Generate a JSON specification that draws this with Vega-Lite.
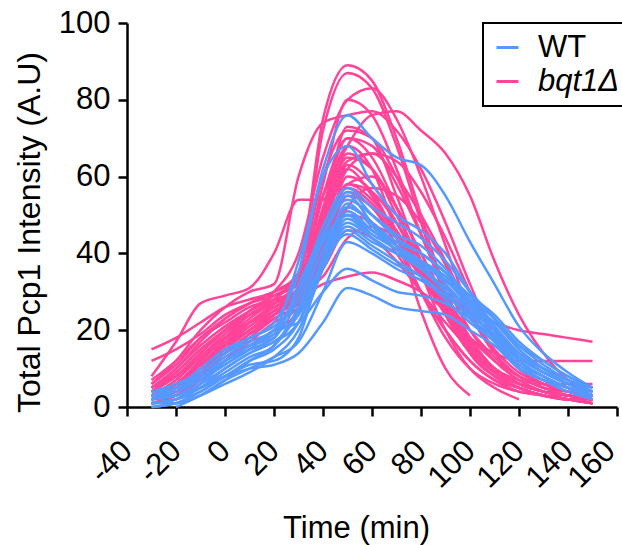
{
"$schema":"https://vega.github.io/schema/vega-lite/v6.json",
"width":490,"height":384,
"autosize":{"type":"none"},
"padding":{"left":127,"top":23,"right":5,"bottom":138},
"background":"white",
"config":{"view":{"stroke":null},"font":"Liberation Sans",
"axis":{"grid":false,"domainColor":"black","domainWidth":2.5,"tickColor":"black","tickWidth":2.5,"tickSize":9,"labelColor":"black","titleColor":"black","labelFontSize":31,"titleFontSize":31,"titleFontWeight":"normal","labelFont":"Liberation Sans","titleFont":"Liberation Sans"}},
"data":{"values":[
{"s":"P1","g":"bqt1Δ","t":-30,"v":3},{"s":"P1","g":"bqt1Δ","t":-20,"v":6},{"s":"P1","g":"bqt1Δ","t":-10,"v":12},{"s":"P1","g":"bqt1Δ","t":0,"v":18},{"s":"P1","g":"bqt1Δ","t":10,"v":24},{"s":"P1","g":"bqt1Δ","t":20,"v":28},{"s":"P1","g":"bqt1Δ","t":30,"v":35},{"s":"P1","g":"bqt1Δ","t":40,"v":75},{"s":"P1","g":"bqt1Δ","t":50,"v":89},{"s":"P1","g":"bqt1Δ","t":60,"v":85},{"s":"P1","g":"bqt1Δ","t":70,"v":70},{"s":"P1","g":"bqt1Δ","t":80,"v":50},{"s":"P1","g":"bqt1Δ","t":90,"v":30},{"s":"P1","g":"bqt1Δ","t":100,"v":15},{"s":"P1","g":"bqt1Δ","t":110,"v":8},{"s":"P1","g":"bqt1Δ","t":120,"v":5},{"s":"P1","g":"bqt1Δ","t":130,"v":3},{"s":"P1","g":"bqt1Δ","t":140,"v":2},{"s":"P1","g":"bqt1Δ","t":150,"v":1},
{"s":"P2","g":"bqt1Δ","t":-30,"v":2},{"s":"P2","g":"bqt1Δ","t":-20,"v":5},{"s":"P2","g":"bqt1Δ","t":-10,"v":10},{"s":"P2","g":"bqt1Δ","t":0,"v":16},{"s":"P2","g":"bqt1Δ","t":10,"v":22},{"s":"P2","g":"bqt1Δ","t":20,"v":27},{"s":"P2","g":"bqt1Δ","t":30,"v":33},{"s":"P2","g":"bqt1Δ","t":40,"v":72},{"s":"P2","g":"bqt1Δ","t":50,"v":87},{"s":"P2","g":"bqt1Δ","t":60,"v":83},{"s":"P2","g":"bqt1Δ","t":70,"v":68},{"s":"P2","g":"bqt1Δ","t":80,"v":48},{"s":"P2","g":"bqt1Δ","t":90,"v":28},{"s":"P2","g":"bqt1Δ","t":100,"v":14},{"s":"P2","g":"bqt1Δ","t":110,"v":8},{"s":"P2","g":"bqt1Δ","t":120,"v":5},{"s":"P2","g":"bqt1Δ","t":130,"v":3},{"s":"P2","g":"bqt1Δ","t":140,"v":2},{"s":"P2","g":"bqt1Δ","t":150,"v":2},
{"s":"P3","g":"bqt1Δ","t":-30,"v":4},{"s":"P3","g":"bqt1Δ","t":-20,"v":8},{"s":"P3","g":"bqt1Δ","t":-10,"v":14},{"s":"P3","g":"bqt1Δ","t":0,"v":20},{"s":"P3","g":"bqt1Δ","t":10,"v":25},{"s":"P3","g":"bqt1Δ","t":20,"v":30},{"s":"P3","g":"bqt1Δ","t":30,"v":40},{"s":"P3","g":"bqt1Δ","t":40,"v":65},{"s":"P3","g":"bqt1Δ","t":50,"v":80},{"s":"P3","g":"bqt1Δ","t":60,"v":83},{"s":"P3","g":"bqt1Δ","t":70,"v":75},{"s":"P3","g":"bqt1Δ","t":80,"v":60},{"s":"P3","g":"bqt1Δ","t":90,"v":42},{"s":"P3","g":"bqt1Δ","t":100,"v":25},{"s":"P3","g":"bqt1Δ","t":110,"v":14},{"s":"P3","g":"bqt1Δ","t":120,"v":8},{"s":"P3","g":"bqt1Δ","t":130,"v":5},{"s":"P3","g":"bqt1Δ","t":140,"v":3},{"s":"P3","g":"bqt1Δ","t":150,"v":2},
{"s":"P4","g":"bqt1Δ","t":-30,"v":6},{"s":"P4","g":"bqt1Δ","t":-20,"v":12},{"s":"P4","g":"bqt1Δ","t":-10,"v":20},{"s":"P4","g":"bqt1Δ","t":0,"v":26},{"s":"P4","g":"bqt1Δ","t":10,"v":30},{"s":"P4","g":"bqt1Δ","t":20,"v":32},{"s":"P4","g":"bqt1Δ","t":30,"v":60},{"s":"P4","g":"bqt1Δ","t":40,"v":74},{"s":"P4","g":"bqt1Δ","t":50,"v":76},{"s":"P4","g":"bqt1Δ","t":60,"v":77},{"s":"P4","g":"bqt1Δ","t":70,"v":72},{"s":"P4","g":"bqt1Δ","t":80,"v":62},{"s":"P4","g":"bqt1Δ","t":90,"v":48},{"s":"P4","g":"bqt1Δ","t":100,"v":32},{"s":"P4","g":"bqt1Δ","t":110,"v":18},{"s":"P4","g":"bqt1Δ","t":120,"v":10},{"s":"P4","g":"bqt1Δ","t":130,"v":6},{"s":"P4","g":"bqt1Δ","t":140,"v":4},{"s":"P4","g":"bqt1Δ","t":150,"v":3},
{"s":"P5","g":"bqt1Δ","t":-30,"v":3},{"s":"P5","g":"bqt1Δ","t":-20,"v":6},{"s":"P5","g":"bqt1Δ","t":-10,"v":12},{"s":"P5","g":"bqt1Δ","t":0,"v":18},{"s":"P5","g":"bqt1Δ","t":10,"v":23},{"s":"P5","g":"bqt1Δ","t":20,"v":28},{"s":"P5","g":"bqt1Δ","t":30,"v":35},{"s":"P5","g":"bqt1Δ","t":40,"v":55},{"s":"P5","g":"bqt1Δ","t":50,"v":68},{"s":"P5","g":"bqt1Δ","t":60,"v":76},{"s":"P5","g":"bqt1Δ","t":70,"v":77},{"s":"P5","g":"bqt1Δ","t":80,"v":72},{"s":"P5","g":"bqt1Δ","t":90,"v":66},{"s":"P5","g":"bqt1Δ","t":100,"v":55},{"s":"P5","g":"bqt1Δ","t":110,"v":38},{"s":"P5","g":"bqt1Δ","t":120,"v":24},{"s":"P5","g":"bqt1Δ","t":130,"v":14},{"s":"P5","g":"bqt1Δ","t":140,"v":7},{"s":"P5","g":"bqt1Δ","t":150,"v":4},
{"s":"P6","g":"bqt1Δ","t":-30,"v":5},{"s":"P6","g":"bqt1Δ","t":-20,"v":10},{"s":"P6","g":"bqt1Δ","t":-10,"v":17},{"s":"P6","g":"bqt1Δ","t":0,"v":23},{"s":"P6","g":"bqt1Δ","t":10,"v":27},{"s":"P6","g":"bqt1Δ","t":20,"v":30},{"s":"P6","g":"bqt1Δ","t":30,"v":35},{"s":"P6","g":"bqt1Δ","t":40,"v":60},{"s":"P6","g":"bqt1Δ","t":50,"v":72},{"s":"P6","g":"bqt1Δ","t":60,"v":70},{"s":"P6","g":"bqt1Δ","t":70,"v":60},{"s":"P6","g":"bqt1Δ","t":80,"v":45},{"s":"P6","g":"bqt1Δ","t":90,"v":30},{"s":"P6","g":"bqt1Δ","t":100,"v":18},{"s":"P6","g":"bqt1Δ","t":110,"v":10},{"s":"P6","g":"bqt1Δ","t":120,"v":6},{"s":"P6","g":"bqt1Δ","t":130,"v":4},{"s":"P6","g":"bqt1Δ","t":140,"v":3},{"s":"P6","g":"bqt1Δ","t":150,"v":2},
{"s":"P7","g":"bqt1Δ","t":-30,"v":2},{"s":"P7","g":"bqt1Δ","t":-20,"v":4},{"s":"P7","g":"bqt1Δ","t":-10,"v":9},{"s":"P7","g":"bqt1Δ","t":0,"v":15},{"s":"P7","g":"bqt1Δ","t":10,"v":20},{"s":"P7","g":"bqt1Δ","t":20,"v":25},{"s":"P7","g":"bqt1Δ","t":30,"v":30},{"s":"P7","g":"bqt1Δ","t":40,"v":55},{"s":"P7","g":"bqt1Δ","t":50,"v":70},{"s":"P7","g":"bqt1Δ","t":60,"v":68},{"s":"P7","g":"bqt1Δ","t":70,"v":58},{"s":"P7","g":"bqt1Δ","t":80,"v":45},{"s":"P7","g":"bqt1Δ","t":90,"v":32},{"s":"P7","g":"bqt1Δ","t":100,"v":20},{"s":"P7","g":"bqt1Δ","t":110,"v":12},{"s":"P7","g":"bqt1Δ","t":120,"v":7},{"s":"P7","g":"bqt1Δ","t":130,"v":4},{"s":"P7","g":"bqt1Δ","t":140,"v":2},{"s":"P7","g":"bqt1Δ","t":150,"v":1},
{"s":"P8","g":"bqt1Δ","t":-30,"v":8},{"s":"P8","g":"bqt1Δ","t":-20,"v":17},{"s":"P8","g":"bqt1Δ","t":-10,"v":27},{"s":"P8","g":"bqt1Δ","t":0,"v":29},{"s":"P8","g":"bqt1Δ","t":10,"v":31},{"s":"P8","g":"bqt1Δ","t":20,"v":40},{"s":"P8","g":"bqt1Δ","t":30,"v":54},{"s":"P8","g":"bqt1Δ","t":40,"v":54},{"s":"P8","g":"bqt1Δ","t":50,"v":66},{"s":"P8","g":"bqt1Δ","t":60,"v":62},{"s":"P8","g":"bqt1Δ","t":70,"v":52},{"s":"P8","g":"bqt1Δ","t":80,"v":40},{"s":"P8","g":"bqt1Δ","t":90,"v":28},{"s":"P8","g":"bqt1Δ","t":100,"v":17},{"s":"P8","g":"bqt1Δ","t":110,"v":10},{"s":"P8","g":"bqt1Δ","t":120,"v":6},{"s":"P8","g":"bqt1Δ","t":130,"v":4},{"s":"P8","g":"bqt1Δ","t":140,"v":3},{"s":"P8","g":"bqt1Δ","t":150,"v":2},
{"s":"P9","g":"bqt1Δ","t":-30,"v":1},{"s":"P9","g":"bqt1Δ","t":-20,"v":3},{"s":"P9","g":"bqt1Δ","t":-10,"v":8},{"s":"P9","g":"bqt1Δ","t":0,"v":14},{"s":"P9","g":"bqt1Δ","t":10,"v":19},{"s":"P9","g":"bqt1Δ","t":20,"v":24},{"s":"P9","g":"bqt1Δ","t":30,"v":30},{"s":"P9","g":"bqt1Δ","t":40,"v":48},{"s":"P9","g":"bqt1Δ","t":50,"v":65},{"s":"P9","g":"bqt1Δ","t":60,"v":62},{"s":"P9","g":"bqt1Δ","t":70,"v":50},{"s":"P9","g":"bqt1Δ","t":80,"v":38},{"s":"P9","g":"bqt1Δ","t":90,"v":26},{"s":"P9","g":"bqt1Δ","t":100,"v":16},{"s":"P9","g":"bqt1Δ","t":110,"v":9},{"s":"P9","g":"bqt1Δ","t":120,"v":5},{"s":"P9","g":"bqt1Δ","t":130,"v":3},{"s":"P9","g":"bqt1Δ","t":140,"v":2},{"s":"P9","g":"bqt1Δ","t":150,"v":2},
{"s":"P10","g":"bqt1Δ","t":-30,"v":4},{"s":"P10","g":"bqt1Δ","t":-20,"v":9},{"s":"P10","g":"bqt1Δ","t":-10,"v":15},{"s":"P10","g":"bqt1Δ","t":0,"v":20},{"s":"P10","g":"bqt1Δ","t":10,"v":24},{"s":"P10","g":"bqt1Δ","t":20,"v":27},{"s":"P10","g":"bqt1Δ","t":30,"v":31},{"s":"P10","g":"bqt1Δ","t":40,"v":45},{"s":"P10","g":"bqt1Δ","t":50,"v":63},{"s":"P10","g":"bqt1Δ","t":60,"v":58},{"s":"P10","g":"bqt1Δ","t":70,"v":48},{"s":"P10","g":"bqt1Δ","t":80,"v":36},{"s":"P10","g":"bqt1Δ","t":90,"v":24},{"s":"P10","g":"bqt1Δ","t":100,"v":15},{"s":"P10","g":"bqt1Δ","t":110,"v":9},{"s":"P10","g":"bqt1Δ","t":120,"v":6},{"s":"P10","g":"bqt1Δ","t":130,"v":4},{"s":"P10","g":"bqt1Δ","t":140,"v":3},{"s":"P10","g":"bqt1Δ","t":150,"v":2},
{"s":"P11","g":"bqt1Δ","t":-30,"v":15},{"s":"P11","g":"bqt1Δ","t":-20,"v":18},{"s":"P11","g":"bqt1Δ","t":-10,"v":22},{"s":"P11","g":"bqt1Δ","t":0,"v":26},{"s":"P11","g":"bqt1Δ","t":10,"v":28},{"s":"P11","g":"bqt1Δ","t":20,"v":30},{"s":"P11","g":"bqt1Δ","t":30,"v":34},{"s":"P11","g":"bqt1Δ","t":40,"v":48},{"s":"P11","g":"bqt1Δ","t":50,"v":62},{"s":"P11","g":"bqt1Δ","t":60,"v":55},{"s":"P11","g":"bqt1Δ","t":70,"v":45},{"s":"P11","g":"bqt1Δ","t":80,"v":37},{"s":"P11","g":"bqt1Δ","t":90,"v":30},{"s":"P11","g":"bqt1Δ","t":100,"v":25},{"s":"P11","g":"bqt1Δ","t":110,"v":22},{"s":"P11","g":"bqt1Δ","t":120,"v":20},{"s":"P11","g":"bqt1Δ","t":130,"v":19},{"s":"P11","g":"bqt1Δ","t":140,"v":18},{"s":"P11","g":"bqt1Δ","t":150,"v":17},
{"s":"P12","g":"bqt1Δ","t":-30,"v":12},{"s":"P12","g":"bqt1Δ","t":-20,"v":15},{"s":"P12","g":"bqt1Δ","t":-10,"v":19},{"s":"P12","g":"bqt1Δ","t":0,"v":24},{"s":"P12","g":"bqt1Δ","t":10,"v":27},{"s":"P12","g":"bqt1Δ","t":20,"v":29},{"s":"P12","g":"bqt1Δ","t":30,"v":32},{"s":"P12","g":"bqt1Δ","t":40,"v":44},{"s":"P12","g":"bqt1Δ","t":50,"v":58},{"s":"P12","g":"bqt1Δ","t":60,"v":54},{"s":"P12","g":"bqt1Δ","t":70,"v":46},{"s":"P12","g":"bqt1Δ","t":80,"v":36},{"s":"P12","g":"bqt1Δ","t":90,"v":26},{"s":"P12","g":"bqt1Δ","t":100,"v":18},{"s":"P12","g":"bqt1Δ","t":110,"v":14},{"s":"P12","g":"bqt1Δ","t":120,"v":12},{"s":"P12","g":"bqt1Δ","t":130,"v":12},{"s":"P12","g":"bqt1Δ","t":140,"v":12},{"s":"P12","g":"bqt1Δ","t":150,"v":12},
{"s":"P13","g":"bqt1Δ","t":-30,"v":2},{"s":"P13","g":"bqt1Δ","t":-20,"v":5},{"s":"P13","g":"bqt1Δ","t":-10,"v":11},{"s":"P13","g":"bqt1Δ","t":0,"v":17},{"s":"P13","g":"bqt1Δ","t":10,"v":22},{"s":"P13","g":"bqt1Δ","t":20,"v":26},{"s":"P13","g":"bqt1Δ","t":30,"v":29},{"s":"P13","g":"bqt1Δ","t":40,"v":40},{"s":"P13","g":"bqt1Δ","t":50,"v":55},{"s":"P13","g":"bqt1Δ","t":60,"v":52},{"s":"P13","g":"bqt1Δ","t":70,"v":42},{"s":"P13","g":"bqt1Δ","t":80,"v":30},{"s":"P13","g":"bqt1Δ","t":90,"v":20},{"s":"P13","g":"bqt1Δ","t":100,"v":12},{"s":"P13","g":"bqt1Δ","t":110,"v":7},{"s":"P13","g":"bqt1Δ","t":120,"v":4},{"s":"P13","g":"bqt1Δ","t":130,"v":3},{"s":"P13","g":"bqt1Δ","t":140,"v":2},{"s":"P13","g":"bqt1Δ","t":150,"v":2},
{"s":"P14","g":"bqt1Δ","t":-30,"v":3},{"s":"P14","g":"bqt1Δ","t":-20,"v":7},{"s":"P14","g":"bqt1Δ","t":-10,"v":13},{"s":"P14","g":"bqt1Δ","t":0,"v":19},{"s":"P14","g":"bqt1Δ","t":10,"v":24},{"s":"P14","g":"bqt1Δ","t":20,"v":27},{"s":"P14","g":"bqt1Δ","t":30,"v":30},{"s":"P14","g":"bqt1Δ","t":40,"v":42},{"s":"P14","g":"bqt1Δ","t":50,"v":60},{"s":"P14","g":"bqt1Δ","t":60,"v":56},{"s":"P14","g":"bqt1Δ","t":70,"v":44},{"s":"P14","g":"bqt1Δ","t":80,"v":30},{"s":"P14","g":"bqt1Δ","t":90,"v":18},{"s":"P14","g":"bqt1Δ","t":100,"v":10},{"s":"P14","g":"bqt1Δ","t":110,"v":6},{"s":"P14","g":"bqt1Δ","t":120,"v":4},{"s":"P14","g":"bqt1Δ","t":130,"v":3},{"s":"P14","g":"bqt1Δ","t":140,"v":2},{"s":"P14","g":"bqt1Δ","t":150,"v":1},
{"s":"P15","g":"bqt1Δ","t":-30,"v":1},{"s":"P15","g":"bqt1Δ","t":-20,"v":3},{"s":"P15","g":"bqt1Δ","t":-10,"v":7},{"s":"P15","g":"bqt1Δ","t":0,"v":12},{"s":"P15","g":"bqt1Δ","t":10,"v":17},{"s":"P15","g":"bqt1Δ","t":20,"v":22},{"s":"P15","g":"bqt1Δ","t":30,"v":26},{"s":"P15","g":"bqt1Δ","t":40,"v":38},{"s":"P15","g":"bqt1Δ","t":50,"v":52},{"s":"P15","g":"bqt1Δ","t":60,"v":48},{"s":"P15","g":"bqt1Δ","t":70,"v":40},{"s":"P15","g":"bqt1Δ","t":80,"v":30},{"s":"P15","g":"bqt1Δ","t":90,"v":20},{"s":"P15","g":"bqt1Δ","t":100,"v":12},{"s":"P15","g":"bqt1Δ","t":110,"v":7},{"s":"P15","g":"bqt1Δ","t":120,"v":5},{"s":"P15","g":"bqt1Δ","t":130,"v":3},{"s":"P15","g":"bqt1Δ","t":140,"v":2},{"s":"P15","g":"bqt1Δ","t":150,"v":1},
{"s":"P16","g":"bqt1Δ","t":-30,"v":3},{"s":"P16","g":"bqt1Δ","t":-20,"v":6},{"s":"P16","g":"bqt1Δ","t":-10,"v":11},{"s":"P16","g":"bqt1Δ","t":0,"v":16},{"s":"P16","g":"bqt1Δ","t":10,"v":20},{"s":"P16","g":"bqt1Δ","t":20,"v":24},{"s":"P16","g":"bqt1Δ","t":30,"v":28},{"s":"P16","g":"bqt1Δ","t":40,"v":32},{"s":"P16","g":"bqt1Δ","t":50,"v":34},{"s":"P16","g":"bqt1Δ","t":60,"v":35},{"s":"P16","g":"bqt1Δ","t":70,"v":33},{"s":"P16","g":"bqt1Δ","t":80,"v":30},{"s":"P16","g":"bqt1Δ","t":90,"v":25},{"s":"P16","g":"bqt1Δ","t":100,"v":18},{"s":"P16","g":"bqt1Δ","t":110,"v":12},{"s":"P16","g":"bqt1Δ","t":120,"v":8},{"s":"P16","g":"bqt1Δ","t":130,"v":5},{"s":"P16","g":"bqt1Δ","t":140,"v":4},{"s":"P16","g":"bqt1Δ","t":150,"v":3},
{"s":"P17","g":"bqt1Δ","t":-30,"v":5},{"s":"P17","g":"bqt1Δ","t":-20,"v":10},{"s":"P17","g":"bqt1Δ","t":-10,"v":16},{"s":"P17","g":"bqt1Δ","t":0,"v":21},{"s":"P17","g":"bqt1Δ","t":10,"v":25},{"s":"P17","g":"bqt1Δ","t":20,"v":28},{"s":"P17","g":"bqt1Δ","t":30,"v":30},{"s":"P17","g":"bqt1Δ","t":40,"v":45},{"s":"P17","g":"bqt1Δ","t":50,"v":58},{"s":"P17","g":"bqt1Δ","t":60,"v":60},{"s":"P17","g":"bqt1Δ","t":70,"v":52},{"s":"P17","g":"bqt1Δ","t":80,"v":40},{"s":"P17","g":"bqt1Δ","t":90,"v":28},{"s":"P17","g":"bqt1Δ","t":100,"v":17},{"s":"P17","g":"bqt1Δ","t":110,"v":10},{"s":"P17","g":"bqt1Δ","t":120,"v":6},{"s":"P17","g":"bqt1Δ","t":130,"v":4},{"s":"P17","g":"bqt1Δ","t":140,"v":3},{"s":"P17","g":"bqt1Δ","t":150,"v":2},
{"s":"P18","g":"bqt1Δ","t":-30,"v":2},{"s":"P18","g":"bqt1Δ","t":-20,"v":4},{"s":"P18","g":"bqt1Δ","t":-10,"v":9},{"s":"P18","g":"bqt1Δ","t":0,"v":15},{"s":"P18","g":"bqt1Δ","t":10,"v":20},{"s":"P18","g":"bqt1Δ","t":20,"v":24},{"s":"P18","g":"bqt1Δ","t":30,"v":28},{"s":"P18","g":"bqt1Δ","t":40,"v":50},{"s":"P18","g":"bqt1Δ","t":50,"v":68},{"s":"P18","g":"bqt1Δ","t":60,"v":62},{"s":"P18","g":"bqt1Δ","t":70,"v":45},{"s":"P18","g":"bqt1Δ","t":80,"v":25},{"s":"P18","g":"bqt1Δ","t":90,"v":10},{"s":"P18","g":"bqt1Δ","t":100,"v":3},
{"s":"P19","g":"bqt1Δ","t":-30,"v":3},{"s":"P19","g":"bqt1Δ","t":-20,"v":6},{"s":"P19","g":"bqt1Δ","t":-10,"v":12},{"s":"P19","g":"bqt1Δ","t":0,"v":18},{"s":"P19","g":"bqt1Δ","t":10,"v":22},{"s":"P19","g":"bqt1Δ","t":20,"v":26},{"s":"P19","g":"bqt1Δ","t":30,"v":30},{"s":"P19","g":"bqt1Δ","t":40,"v":52},{"s":"P19","g":"bqt1Δ","t":50,"v":70},{"s":"P19","g":"bqt1Δ","t":60,"v":65},{"s":"P19","g":"bqt1Δ","t":70,"v":52},{"s":"P19","g":"bqt1Δ","t":80,"v":35},{"s":"P19","g":"bqt1Δ","t":90,"v":20},{"s":"P19","g":"bqt1Δ","t":100,"v":10},{"s":"P19","g":"bqt1Δ","t":110,"v":5},{"s":"P19","g":"bqt1Δ","t":120,"v":2},
{"s":"P20","g":"bqt1Δ","t":-30,"v":4},{"s":"P20","g":"bqt1Δ","t":-20,"v":8},{"s":"P20","g":"bqt1Δ","t":-10,"v":14},{"s":"P20","g":"bqt1Δ","t":0,"v":20},{"s":"P20","g":"bqt1Δ","t":10,"v":25},{"s":"P20","g":"bqt1Δ","t":20,"v":29},{"s":"P20","g":"bqt1Δ","t":30,"v":33},{"s":"P20","g":"bqt1Δ","t":40,"v":50},{"s":"P20","g":"bqt1Δ","t":50,"v":64},{"s":"P20","g":"bqt1Δ","t":60,"v":66},{"s":"P20","g":"bqt1Δ","t":70,"v":60},{"s":"P20","g":"bqt1Δ","t":80,"v":50},{"s":"P20","g":"bqt1Δ","t":90,"v":38},{"s":"P20","g":"bqt1Δ","t":100,"v":25},{"s":"P20","g":"bqt1Δ","t":110,"v":15},{"s":"P20","g":"bqt1Δ","t":120,"v":9},{"s":"P20","g":"bqt1Δ","t":130,"v":6},{"s":"P20","g":"bqt1Δ","t":140,"v":4},{"s":"P20","g":"bqt1Δ","t":150,"v":3},
{"s":"P21","g":"bqt1Δ","t":-30,"v":1},{"s":"P21","g":"bqt1Δ","t":-20,"v":2},{"s":"P21","g":"bqt1Δ","t":-10,"v":6},{"s":"P21","g":"bqt1Δ","t":0,"v":12},{"s":"P21","g":"bqt1Δ","t":10,"v":18},{"s":"P21","g":"bqt1Δ","t":20,"v":23},{"s":"P21","g":"bqt1Δ","t":30,"v":27},{"s":"P21","g":"bqt1Δ","t":40,"v":40},{"s":"P21","g":"bqt1Δ","t":50,"v":58},{"s":"P21","g":"bqt1Δ","t":60,"v":56},{"s":"P21","g":"bqt1Δ","t":70,"v":48},{"s":"P21","g":"bqt1Δ","t":80,"v":38},{"s":"P21","g":"bqt1Δ","t":90,"v":27},{"s":"P21","g":"bqt1Δ","t":100,"v":17},{"s":"P21","g":"bqt1Δ","t":110,"v":10},{"s":"P21","g":"bqt1Δ","t":120,"v":6},{"s":"P21","g":"bqt1Δ","t":130,"v":4},{"s":"P21","g":"bqt1Δ","t":140,"v":3},{"s":"P21","g":"bqt1Δ","t":150,"v":2},
{"s":"P22","g":"bqt1Δ","t":-30,"v":6},{"s":"P22","g":"bqt1Δ","t":-20,"v":11},{"s":"P22","g":"bqt1Δ","t":-10,"v":18},{"s":"P22","g":"bqt1Δ","t":0,"v":23},{"s":"P22","g":"bqt1Δ","t":10,"v":27},{"s":"P22","g":"bqt1Δ","t":20,"v":30},{"s":"P22","g":"bqt1Δ","t":30,"v":33},{"s":"P22","g":"bqt1Δ","t":40,"v":58},{"s":"P22","g":"bqt1Δ","t":50,"v":80},{"s":"P22","g":"bqt1Δ","t":60,"v":76},{"s":"P22","g":"bqt1Δ","t":70,"v":62},{"s":"P22","g":"bqt1Δ","t":80,"v":45},{"s":"P22","g":"bqt1Δ","t":90,"v":30},{"s":"P22","g":"bqt1Δ","t":100,"v":18},{"s":"P22","g":"bqt1Δ","t":110,"v":10},{"s":"P22","g":"bqt1Δ","t":120,"v":6},{"s":"P22","g":"bqt1Δ","t":130,"v":4},{"s":"P22","g":"bqt1Δ","t":140,"v":3},{"s":"P22","g":"bqt1Δ","t":150,"v":2},
{"s":"P23","g":"bqt1Δ","t":-30,"v":2},{"s":"P23","g":"bqt1Δ","t":-20,"v":5},{"s":"P23","g":"bqt1Δ","t":-10,"v":10},{"s":"P23","g":"bqt1Δ","t":0,"v":16},{"s":"P23","g":"bqt1Δ","t":10,"v":21},{"s":"P23","g":"bqt1Δ","t":20,"v":25},{"s":"P23","g":"bqt1Δ","t":30,"v":29},{"s":"P23","g":"bqt1Δ","t":40,"v":42},{"s":"P23","g":"bqt1Δ","t":50,"v":50},{"s":"P23","g":"bqt1Δ","t":60,"v":48},{"s":"P23","g":"bqt1Δ","t":70,"v":42},{"s":"P23","g":"bqt1Δ","t":80,"v":34},{"s":"P23","g":"bqt1Δ","t":90,"v":25},{"s":"P23","g":"bqt1Δ","t":100,"v":16},{"s":"P23","g":"bqt1Δ","t":110,"v":10},{"s":"P23","g":"bqt1Δ","t":120,"v":6},{"s":"P23","g":"bqt1Δ","t":130,"v":4},{"s":"P23","g":"bqt1Δ","t":140,"v":3},{"s":"P23","g":"bqt1Δ","t":150,"v":2},
{"s":"P24","g":"bqt1Δ","t":-30,"v":3},{"s":"P24","g":"bqt1Δ","t":-20,"v":7},{"s":"P24","g":"bqt1Δ","t":-10,"v":13},{"s":"P24","g":"bqt1Δ","t":0,"v":18},{"s":"P24","g":"bqt1Δ","t":10,"v":22},{"s":"P24","g":"bqt1Δ","t":20,"v":26},{"s":"P24","g":"bqt1Δ","t":30,"v":30},{"s":"P24","g":"bqt1Δ","t":40,"v":36},{"s":"P24","g":"bqt1Δ","t":50,"v":46},{"s":"P24","g":"bqt1Δ","t":60,"v":44},{"s":"P24","g":"bqt1Δ","t":70,"v":38},{"s":"P24","g":"bqt1Δ","t":80,"v":30},{"s":"P24","g":"bqt1Δ","t":90,"v":22},{"s":"P24","g":"bqt1Δ","t":100,"v":15},{"s":"P24","g":"bqt1Δ","t":110,"v":9},{"s":"P24","g":"bqt1Δ","t":120,"v":6},{"s":"P24","g":"bqt1Δ","t":130,"v":4},{"s":"P24","g":"bqt1Δ","t":140,"v":3},{"s":"P24","g":"bqt1Δ","t":150,"v":2},
{"s":"P25","g":"bqt1Δ","t":-30,"v":5},{"s":"P25","g":"bqt1Δ","t":-20,"v":9},{"s":"P25","g":"bqt1Δ","t":-10,"v":15},{"s":"P25","g":"bqt1Δ","t":0,"v":20},{"s":"P25","g":"bqt1Δ","t":10,"v":24},{"s":"P25","g":"bqt1Δ","t":20,"v":27},{"s":"P25","g":"bqt1Δ","t":30,"v":31},{"s":"P25","g":"bqt1Δ","t":40,"v":47},{"s":"P25","g":"bqt1Δ","t":50,"v":62},{"s":"P25","g":"bqt1Δ","t":60,"v":66},{"s":"P25","g":"bqt1Δ","t":70,"v":64},{"s":"P25","g":"bqt1Δ","t":80,"v":56},{"s":"P25","g":"bqt1Δ","t":90,"v":44},{"s":"P25","g":"bqt1Δ","t":100,"v":30},{"s":"P25","g":"bqt1Δ","t":110,"v":18},{"s":"P25","g":"bqt1Δ","t":120,"v":10},{"s":"P25","g":"bqt1Δ","t":130,"v":6},{"s":"P25","g":"bqt1Δ","t":140,"v":4},{"s":"P25","g":"bqt1Δ","t":150,"v":3},
{"s":"P26","g":"bqt1Δ","t":-30,"v":2},{"s":"P26","g":"bqt1Δ","t":-20,"v":4},{"s":"P26","g":"bqt1Δ","t":-10,"v":8},{"s":"P26","g":"bqt1Δ","t":0,"v":14},{"s":"P26","g":"bqt1Δ","t":10,"v":19},{"s":"P26","g":"bqt1Δ","t":20,"v":23},{"s":"P26","g":"bqt1Δ","t":30,"v":27},{"s":"P26","g":"bqt1Δ","t":40,"v":44},{"s":"P26","g":"bqt1Δ","t":50,"v":56},{"s":"P26","g":"bqt1Δ","t":60,"v":52},{"s":"P26","g":"bqt1Δ","t":70,"v":44},{"s":"P26","g":"bqt1Δ","t":80,"v":34},{"s":"P26","g":"bqt1Δ","t":90,"v":24},{"s":"P26","g":"bqt1Δ","t":100,"v":15},{"s":"P26","g":"bqt1Δ","t":110,"v":9},{"s":"P26","g":"bqt1Δ","t":120,"v":5},{"s":"P26","g":"bqt1Δ","t":130,"v":3},{"s":"P26","g":"bqt1Δ","t":140,"v":2},{"s":"P26","g":"bqt1Δ","t":150,"v":1},
{"s":"P27","g":"bqt1Δ","t":-30,"v":4},{"s":"P27","g":"bqt1Δ","t":-20,"v":8},{"s":"P27","g":"bqt1Δ","t":-10,"v":13},{"s":"P27","g":"bqt1Δ","t":0,"v":18},{"s":"P27","g":"bqt1Δ","t":10,"v":22},{"s":"P27","g":"bqt1Δ","t":20,"v":25},{"s":"P27","g":"bqt1Δ","t":30,"v":29},{"s":"P27","g":"bqt1Δ","t":40,"v":38},{"s":"P27","g":"bqt1Δ","t":50,"v":52},{"s":"P27","g":"bqt1Δ","t":60,"v":57},{"s":"P27","g":"bqt1Δ","t":70,"v":55},{"s":"P27","g":"bqt1Δ","t":80,"v":48},{"s":"P27","g":"bqt1Δ","t":90,"v":37},{"s":"P27","g":"bqt1Δ","t":100,"v":24},{"s":"P27","g":"bqt1Δ","t":110,"v":14},{"s":"P27","g":"bqt1Δ","t":120,"v":8},{"s":"P27","g":"bqt1Δ","t":130,"v":5},{"s":"P27","g":"bqt1Δ","t":140,"v":3},{"s":"P27","g":"bqt1Δ","t":150,"v":2},
{"s":"P28","g":"bqt1Δ","t":-30,"v":1},{"s":"P28","g":"bqt1Δ","t":-20,"v":3},{"s":"P28","g":"bqt1Δ","t":-10,"v":7},{"s":"P28","g":"bqt1Δ","t":0,"v":12},{"s":"P28","g":"bqt1Δ","t":10,"v":16},{"s":"P28","g":"bqt1Δ","t":20,"v":20},{"s":"P28","g":"bqt1Δ","t":30,"v":25},{"s":"P28","g":"bqt1Δ","t":40,"v":50},{"s":"P28","g":"bqt1Δ","t":50,"v":73},{"s":"P28","g":"bqt1Δ","t":60,"v":70},{"s":"P28","g":"bqt1Δ","t":70,"v":55},{"s":"P28","g":"bqt1Δ","t":80,"v":38},{"s":"P28","g":"bqt1Δ","t":90,"v":24},{"s":"P28","g":"bqt1Δ","t":100,"v":14},{"s":"P28","g":"bqt1Δ","t":110,"v":8},{"s":"P28","g":"bqt1Δ","t":120,"v":5},{"s":"P28","g":"bqt1Δ","t":130,"v":3},{"s":"P28","g":"bqt1Δ","t":140,"v":2},{"s":"P28","g":"bqt1Δ","t":150,"v":1},
{"s":"P29","g":"bqt1Δ","t":-30,"v":7},{"s":"P29","g":"bqt1Δ","t":-20,"v":12},{"s":"P29","g":"bqt1Δ","t":-10,"v":18},{"s":"P29","g":"bqt1Δ","t":0,"v":22},{"s":"P29","g":"bqt1Δ","t":10,"v":26},{"s":"P29","g":"bqt1Δ","t":20,"v":28},{"s":"P29","g":"bqt1Δ","t":30,"v":30},{"s":"P29","g":"bqt1Δ","t":40,"v":34},{"s":"P29","g":"bqt1Δ","t":50,"v":44},{"s":"P29","g":"bqt1Δ","t":60,"v":47},{"s":"P29","g":"bqt1Δ","t":70,"v":44},{"s":"P29","g":"bqt1Δ","t":80,"v":37},{"s":"P29","g":"bqt1Δ","t":90,"v":28},{"s":"P29","g":"bqt1Δ","t":100,"v":20},{"s":"P29","g":"bqt1Δ","t":110,"v":13},{"s":"P29","g":"bqt1Δ","t":120,"v":8},{"s":"P29","g":"bqt1Δ","t":130,"v":6},{"s":"P29","g":"bqt1Δ","t":140,"v":4},{"s":"P29","g":"bqt1Δ","t":150,"v":3},
{"s":"P30","g":"bqt1Δ","t":-30,"v":3},{"s":"P30","g":"bqt1Δ","t":-20,"v":6},{"s":"P30","g":"bqt1Δ","t":-10,"v":11},{"s":"P30","g":"bqt1Δ","t":0,"v":17},{"s":"P30","g":"bqt1Δ","t":10,"v":22},{"s":"P30","g":"bqt1Δ","t":20,"v":26},{"s":"P30","g":"bqt1Δ","t":30,"v":30},{"s":"P30","g":"bqt1Δ","t":40,"v":46},{"s":"P30","g":"bqt1Δ","t":50,"v":57},{"s":"P30","g":"bqt1Δ","t":60,"v":53},{"s":"P30","g":"bqt1Δ","t":70,"v":45},{"s":"P30","g":"bqt1Δ","t":80,"v":35},{"s":"P30","g":"bqt1Δ","t":90,"v":25},{"s":"P30","g":"bqt1Δ","t":100,"v":16},{"s":"P30","g":"bqt1Δ","t":110,"v":10},{"s":"P30","g":"bqt1Δ","t":120,"v":7},{"s":"P30","g":"bqt1Δ","t":130,"v":6},{"s":"P30","g":"bqt1Δ","t":140,"v":6},{"s":"P30","g":"bqt1Δ","t":150,"v":6},
{"s":"W1","g":"WT","t":-30,"v":3},{"s":"W1","g":"WT","t":-20,"v":5},{"s":"W1","g":"WT","t":-10,"v":10},{"s":"W1","g":"WT","t":0,"v":15},{"s":"W1","g":"WT","t":10,"v":18},{"s":"W1","g":"WT","t":20,"v":22},{"s":"W1","g":"WT","t":30,"v":35},{"s":"W1","g":"WT","t":40,"v":62},{"s":"W1","g":"WT","t":50,"v":76},{"s":"W1","g":"WT","t":60,"v":70},{"s":"W1","g":"WT","t":70,"v":65},{"s":"W1","g":"WT","t":80,"v":63},{"s":"W1","g":"WT","t":90,"v":55},{"s":"W1","g":"WT","t":100,"v":43},{"s":"W1","g":"WT","t":110,"v":32},{"s":"W1","g":"WT","t":120,"v":21},{"s":"W1","g":"WT","t":130,"v":14},{"s":"W1","g":"WT","t":140,"v":9},{"s":"W1","g":"WT","t":150,"v":5},
{"s":"W2","g":"WT","t":-30,"v":2},{"s":"W2","g":"WT","t":-20,"v":4},{"s":"W2","g":"WT","t":-10,"v":8},{"s":"W2","g":"WT","t":0,"v":13},{"s":"W2","g":"WT","t":10,"v":17},{"s":"W2","g":"WT","t":20,"v":20},{"s":"W2","g":"WT","t":30,"v":38},{"s":"W2","g":"WT","t":40,"v":60},{"s":"W2","g":"WT","t":50,"v":68},{"s":"W2","g":"WT","t":60,"v":58},{"s":"W2","g":"WT","t":70,"v":50},{"s":"W2","g":"WT","t":80,"v":46},{"s":"W2","g":"WT","t":90,"v":40},{"s":"W2","g":"WT","t":100,"v":30},{"s":"W2","g":"WT","t":110,"v":21},{"s":"W2","g":"WT","t":120,"v":13},{"s":"W2","g":"WT","t":130,"v":9},{"s":"W2","g":"WT","t":140,"v":6},{"s":"W2","g":"WT","t":150,"v":3},
{"s":"W3","g":"WT","t":-30,"v":1},{"s":"W3","g":"WT","t":-20,"v":2},{"s":"W3","g":"WT","t":-10,"v":6},{"s":"W3","g":"WT","t":0,"v":12},{"s":"W3","g":"WT","t":10,"v":16},{"s":"W3","g":"WT","t":20,"v":19},{"s":"W3","g":"WT","t":30,"v":30},{"s":"W3","g":"WT","t":40,"v":47},{"s":"W3","g":"WT","t":50,"v":57},{"s":"W3","g":"WT","t":60,"v":52},{"s":"W3","g":"WT","t":70,"v":48},{"s":"W3","g":"WT","t":80,"v":44},{"s":"W3","g":"WT","t":90,"v":38},{"s":"W3","g":"WT","t":100,"v":30},{"s":"W3","g":"WT","t":110,"v":23},{"s":"W3","g":"WT","t":120,"v":15},{"s":"W3","g":"WT","t":130,"v":10},{"s":"W3","g":"WT","t":140,"v":7},{"s":"W3","g":"WT","t":150,"v":4},
{"s":"W4","g":"WT","t":-30,"v":3},{"s":"W4","g":"WT","t":-20,"v":4},{"s":"W4","g":"WT","t":-10,"v":7},{"s":"W4","g":"WT","t":0,"v":11},{"s":"W4","g":"WT","t":10,"v":15},{"s":"W4","g":"WT","t":20,"v":18},{"s":"W4","g":"WT","t":30,"v":28},{"s":"W4","g":"WT","t":40,"v":44},{"s":"W4","g":"WT","t":50,"v":54},{"s":"W4","g":"WT","t":60,"v":50},{"s":"W4","g":"WT","t":70,"v":45},{"s":"W4","g":"WT","t":80,"v":42},{"s":"W4","g":"WT","t":90,"v":36},{"s":"W4","g":"WT","t":100,"v":28},{"s":"W4","g":"WT","t":110,"v":21},{"s":"W4","g":"WT","t":120,"v":13},{"s":"W4","g":"WT","t":130,"v":9},{"s":"W4","g":"WT","t":140,"v":6},{"s":"W4","g":"WT","t":150,"v":4},
{"s":"W5","g":"WT","t":-30,"v":2},{"s":"W5","g":"WT","t":-20,"v":3},{"s":"W5","g":"WT","t":-10,"v":5},{"s":"W5","g":"WT","t":0,"v":9},{"s":"W5","g":"WT","t":10,"v":13},{"s":"W5","g":"WT","t":20,"v":16},{"s":"W5","g":"WT","t":30,"v":25},{"s":"W5","g":"WT","t":40,"v":41},{"s":"W5","g":"WT","t":50,"v":52},{"s":"W5","g":"WT","t":60,"v":48},{"s":"W5","g":"WT","t":70,"v":43},{"s":"W5","g":"WT","t":80,"v":40},{"s":"W5","g":"WT","t":90,"v":35},{"s":"W5","g":"WT","t":100,"v":27},{"s":"W5","g":"WT","t":110,"v":20},{"s":"W5","g":"WT","t":120,"v":12},{"s":"W5","g":"WT","t":130,"v":8},{"s":"W5","g":"WT","t":140,"v":5},{"s":"W5","g":"WT","t":150,"v":3},
{"s":"W6","g":"WT","t":-30,"v":0},{"s":"W6","g":"WT","t":-20,"v":1},{"s":"W6","g":"WT","t":-10,"v":4},{"s":"W6","g":"WT","t":0,"v":8},{"s":"W6","g":"WT","t":10,"v":11},{"s":"W6","g":"WT","t":20,"v":12},{"s":"W6","g":"WT","t":30,"v":18},{"s":"W6","g":"WT","t":40,"v":38},{"s":"W6","g":"WT","t":50,"v":50},{"s":"W6","g":"WT","t":60,"v":46},{"s":"W6","g":"WT","t":70,"v":42},{"s":"W6","g":"WT","t":80,"v":38},{"s":"W6","g":"WT","t":90,"v":32},{"s":"W6","g":"WT","t":100,"v":25},{"s":"W6","g":"WT","t":110,"v":18},{"s":"W6","g":"WT","t":120,"v":11},{"s":"W6","g":"WT","t":130,"v":7},{"s":"W6","g":"WT","t":140,"v":4},{"s":"W6","g":"WT","t":150,"v":2},
{"s":"W7","g":"WT","t":-30,"v":4},{"s":"W7","g":"WT","t":-20,"v":6},{"s":"W7","g":"WT","t":-10,"v":9},{"s":"W7","g":"WT","t":0,"v":14},{"s":"W7","g":"WT","t":10,"v":17},{"s":"W7","g":"WT","t":20,"v":20},{"s":"W7","g":"WT","t":30,"v":30},{"s":"W7","g":"WT","t":40,"v":45},{"s":"W7","g":"WT","t":50,"v":55},{"s":"W7","g":"WT","t":60,"v":48},{"s":"W7","g":"WT","t":70,"v":42},{"s":"W7","g":"WT","t":80,"v":38},{"s":"W7","g":"WT","t":90,"v":33},{"s":"W7","g":"WT","t":100,"v":28},{"s":"W7","g":"WT","t":110,"v":23},{"s":"W7","g":"WT","t":120,"v":16},{"s":"W7","g":"WT","t":130,"v":12},{"s":"W7","g":"WT","t":140,"v":8},{"s":"W7","g":"WT","t":150,"v":5},
{"s":"W8","g":"WT","t":-30,"v":2},{"s":"W8","g":"WT","t":-20,"v":3},{"s":"W8","g":"WT","t":-10,"v":6},{"s":"W8","g":"WT","t":0,"v":10},{"s":"W8","g":"WT","t":10,"v":14},{"s":"W8","g":"WT","t":20,"v":17},{"s":"W8","g":"WT","t":30,"v":22},{"s":"W8","g":"WT","t":40,"v":37},{"s":"W8","g":"WT","t":50,"v":48},{"s":"W8","g":"WT","t":60,"v":44},{"s":"W8","g":"WT","t":70,"v":40},{"s":"W8","g":"WT","t":80,"v":37},{"s":"W8","g":"WT","t":90,"v":30},{"s":"W8","g":"WT","t":100,"v":23},{"s":"W8","g":"WT","t":110,"v":17},{"s":"W8","g":"WT","t":120,"v":10},{"s":"W8","g":"WT","t":130,"v":7},{"s":"W8","g":"WT","t":140,"v":5},{"s":"W8","g":"WT","t":150,"v":3},
{"s":"W9","g":"WT","t":-30,"v":1},{"s":"W9","g":"WT","t":-20,"v":2},{"s":"W9","g":"WT","t":-10,"v":5},{"s":"W9","g":"WT","t":0,"v":8},{"s":"W9","g":"WT","t":10,"v":12},{"s":"W9","g":"WT","t":20,"v":16},{"s":"W9","g":"WT","t":30,"v":26},{"s":"W9","g":"WT","t":40,"v":41},{"s":"W9","g":"WT","t":50,"v":50},{"s":"W9","g":"WT","t":60,"v":45},{"s":"W9","g":"WT","t":70,"v":41},{"s":"W9","g":"WT","t":80,"v":36},{"s":"W9","g":"WT","t":90,"v":30},{"s":"W9","g":"WT","t":100,"v":24},{"s":"W9","g":"WT","t":110,"v":19},{"s":"W9","g":"WT","t":120,"v":13},{"s":"W9","g":"WT","t":130,"v":9},{"s":"W9","g":"WT","t":140,"v":6},{"s":"W9","g":"WT","t":150,"v":4},
{"s":"W10","g":"WT","t":-30,"v":3},{"s":"W10","g":"WT","t":-20,"v":5},{"s":"W10","g":"WT","t":-10,"v":8},{"s":"W10","g":"WT","t":0,"v":12},{"s":"W10","g":"WT","t":10,"v":16},{"s":"W10","g":"WT","t":20,"v":19},{"s":"W10","g":"WT","t":30,"v":24},{"s":"W10","g":"WT","t":40,"v":36},{"s":"W10","g":"WT","t":50,"v":46},{"s":"W10","g":"WT","t":60,"v":42},{"s":"W10","g":"WT","t":70,"v":38},{"s":"W10","g":"WT","t":80,"v":34},{"s":"W10","g":"WT","t":90,"v":28},{"s":"W10","g":"WT","t":100,"v":22},{"s":"W10","g":"WT","t":110,"v":17},{"s":"W10","g":"WT","t":120,"v":11},{"s":"W10","g":"WT","t":130,"v":8},{"s":"W10","g":"WT","t":140,"v":5},{"s":"W10","g":"WT","t":150,"v":3},
{"s":"W11","g":"WT","t":-30,"v":1},{"s":"W11","g":"WT","t":-20,"v":2},{"s":"W11","g":"WT","t":-10,"v":4},{"s":"W11","g":"WT","t":0,"v":8},{"s":"W11","g":"WT","t":10,"v":12},{"s":"W11","g":"WT","t":20,"v":15},{"s":"W11","g":"WT","t":30,"v":22},{"s":"W11","g":"WT","t":40,"v":39},{"s":"W11","g":"WT","t":50,"v":53},{"s":"W11","g":"WT","t":60,"v":47},{"s":"W11","g":"WT","t":70,"v":42},{"s":"W11","g":"WT","t":80,"v":38},{"s":"W11","g":"WT","t":90,"v":33},{"s":"W11","g":"WT","t":100,"v":27},{"s":"W11","g":"WT","t":110,"v":22},{"s":"W11","g":"WT","t":120,"v":15},{"s":"W11","g":"WT","t":130,"v":10},{"s":"W11","g":"WT","t":140,"v":6},{"s":"W11","g":"WT","t":150,"v":3},
{"s":"W12","g":"WT","t":-30,"v":2},{"s":"W12","g":"WT","t":-20,"v":3},{"s":"W12","g":"WT","t":-10,"v":5},{"s":"W12","g":"WT","t":0,"v":8},{"s":"W12","g":"WT","t":10,"v":10},{"s":"W12","g":"WT","t":20,"v":11},{"s":"W12","g":"WT","t":30,"v":14},{"s":"W12","g":"WT","t":40,"v":22},{"s":"W12","g":"WT","t":50,"v":31},{"s":"W12","g":"WT","t":60,"v":29},{"s":"W12","g":"WT","t":70,"v":26},{"s":"W12","g":"WT","t":80,"v":25},{"s":"W12","g":"WT","t":90,"v":24},{"s":"W12","g":"WT","t":100,"v":20},{"s":"W12","g":"WT","t":110,"v":16},{"s":"W12","g":"WT","t":120,"v":10},{"s":"W12","g":"WT","t":130,"v":7},{"s":"W12","g":"WT","t":140,"v":5},{"s":"W12","g":"WT","t":150,"v":3},
{"s":"W13","g":"WT","t":-30,"v":3},{"s":"W13","g":"WT","t":-20,"v":4},{"s":"W13","g":"WT","t":-10,"v":7},{"s":"W13","g":"WT","t":0,"v":11},{"s":"W13","g":"WT","t":10,"v":15},{"s":"W13","g":"WT","t":20,"v":20},{"s":"W13","g":"WT","t":30,"v":22},{"s":"W13","g":"WT","t":40,"v":30},{"s":"W13","g":"WT","t":50,"v":36},{"s":"W13","g":"WT","t":60,"v":33},{"s":"W13","g":"WT","t":70,"v":30},{"s":"W13","g":"WT","t":80,"v":29},{"s":"W13","g":"WT","t":90,"v":27},{"s":"W13","g":"WT","t":100,"v":23},{"s":"W13","g":"WT","t":110,"v":18},{"s":"W13","g":"WT","t":120,"v":12},{"s":"W13","g":"WT","t":130,"v":8},{"s":"W13","g":"WT","t":140,"v":5},{"s":"W13","g":"WT","t":150,"v":3},
{"s":"W14","g":"WT","t":-30,"v":1},{"s":"W14","g":"WT","t":-20,"v":1},{"s":"W14","g":"WT","t":-10,"v":3},{"s":"W14","g":"WT","t":0,"v":7},{"s":"W14","g":"WT","t":10,"v":12},{"s":"W14","g":"WT","t":20,"v":16},{"s":"W14","g":"WT","t":30,"v":25},{"s":"W14","g":"WT","t":40,"v":38},{"s":"W14","g":"WT","t":50,"v":49},{"s":"W14","g":"WT","t":60,"v":44},{"s":"W14","g":"WT","t":70,"v":40},{"s":"W14","g":"WT","t":80,"v":37},{"s":"W14","g":"WT","t":90,"v":33},{"s":"W14","g":"WT","t":100,"v":26},{"s":"W14","g":"WT","t":110,"v":20},{"s":"W14","g":"WT","t":120,"v":13},{"s":"W14","g":"WT","t":130,"v":9},{"s":"W14","g":"WT","t":140,"v":6},{"s":"W14","g":"WT","t":150,"v":3},
{"s":"W15","g":"WT","t":-30,"v":2},{"s":"W15","g":"WT","t":-20,"v":4},{"s":"W15","g":"WT","t":-10,"v":7},{"s":"W15","g":"WT","t":0,"v":12},{"s":"W15","g":"WT","t":10,"v":16},{"s":"W15","g":"WT","t":20,"v":18},{"s":"W15","g":"WT","t":30,"v":32},{"s":"W15","g":"WT","t":40,"v":45},{"s":"W15","g":"WT","t":50,"v":56},{"s":"W15","g":"WT","t":60,"v":50},{"s":"W15","g":"WT","t":70,"v":44},{"s":"W15","g":"WT","t":80,"v":40},{"s":"W15","g":"WT","t":90,"v":35},{"s":"W15","g":"WT","t":100,"v":29},{"s":"W15","g":"WT","t":110,"v":23},{"s":"W15","g":"WT","t":120,"v":16},{"s":"W15","g":"WT","t":130,"v":11},{"s":"W15","g":"WT","t":140,"v":7},{"s":"W15","g":"WT","t":150,"v":4},
{"s":"W16","g":"WT","t":-30,"v":3},{"s":"W16","g":"WT","t":-20,"v":5},{"s":"W16","g":"WT","t":-10,"v":9},{"s":"W16","g":"WT","t":0,"v":14},{"s":"W16","g":"WT","t":10,"v":18},{"s":"W16","g":"WT","t":20,"v":21},{"s":"W16","g":"WT","t":30,"v":28},{"s":"W16","g":"WT","t":40,"v":43},{"s":"W16","g":"WT","t":50,"v":50},{"s":"W16","g":"WT","t":60,"v":44},{"s":"W16","g":"WT","t":70,"v":40},{"s":"W16","g":"WT","t":80,"v":36},{"s":"W16","g":"WT","t":90,"v":31},{"s":"W16","g":"WT","t":100,"v":25},{"s":"W16","g":"WT","t":110,"v":20},{"s":"W16","g":"WT","t":120,"v":14},{"s":"W16","g":"WT","t":130,"v":10},{"s":"W16","g":"WT","t":140,"v":7},{"s":"W16","g":"WT","t":150,"v":5},
{"s":"W17","g":"WT","t":-30,"v":1},{"s":"W17","g":"WT","t":-20,"v":2},{"s":"W17","g":"WT","t":-10,"v":5},{"s":"W17","g":"WT","t":0,"v":10},{"s":"W17","g":"WT","t":10,"v":14},{"s":"W17","g":"WT","t":20,"v":17},{"s":"W17","g":"WT","t":30,"v":22},{"s":"W17","g":"WT","t":40,"v":37},{"s":"W17","g":"WT","t":50,"v":45},{"s":"W17","g":"WT","t":60,"v":41},{"s":"W17","g":"WT","t":70,"v":37},{"s":"W17","g":"WT","t":80,"v":34},{"s":"W17","g":"WT","t":90,"v":29},{"s":"W17","g":"WT","t":100,"v":24},{"s":"W17","g":"WT","t":110,"v":19},{"s":"W17","g":"WT","t":120,"v":13},{"s":"W17","g":"WT","t":130,"v":10},{"s":"W17","g":"WT","t":140,"v":7},{"s":"W17","g":"WT","t":150,"v":4},
{"s":"W18","g":"WT","t":-20,"v":0},{"s":"W18","g":"WT","t":-10,"v":3},{"s":"W18","g":"WT","t":0,"v":7},{"s":"W18","g":"WT","t":10,"v":10},{"s":"W18","g":"WT","t":20,"v":13},{"s":"W18","g":"WT","t":30,"v":17},{"s":"W18","g":"WT","t":40,"v":30},{"s":"W18","g":"WT","t":50,"v":43},{"s":"W18","g":"WT","t":60,"v":40},{"s":"W18","g":"WT","t":70,"v":36},{"s":"W18","g":"WT","t":80,"v":33},{"s":"W18","g":"WT","t":90,"v":29},{"s":"W18","g":"WT","t":100,"v":24},{"s":"W18","g":"WT","t":110,"v":19},{"s":"W18","g":"WT","t":120,"v":12},{"s":"W18","g":"WT","t":130,"v":8},{"s":"W18","g":"WT","t":140,"v":5},{"s":"W18","g":"WT","t":150,"v":2},
{"s":"W19","g":"WT","t":-30,"v":4},{"s":"W19","g":"WT","t":-20,"v":5},{"s":"W19","g":"WT","t":-10,"v":8},{"s":"W19","g":"WT","t":0,"v":12},{"s":"W19","g":"WT","t":10,"v":15},{"s":"W19","g":"WT","t":20,"v":17},{"s":"W19","g":"WT","t":30,"v":24},{"s":"W19","g":"WT","t":40,"v":37},{"s":"W19","g":"WT","t":50,"v":47},{"s":"W19","g":"WT","t":60,"v":43},{"s":"W19","g":"WT","t":70,"v":40},{"s":"W19","g":"WT","t":80,"v":38},{"s":"W19","g":"WT","t":90,"v":34},{"s":"W19","g":"WT","t":100,"v":29},{"s":"W19","g":"WT","t":110,"v":24},{"s":"W19","g":"WT","t":120,"v":17},{"s":"W19","g":"WT","t":130,"v":12},{"s":"W19","g":"WT","t":140,"v":8},{"s":"W19","g":"WT","t":150,"v":5},
{"s":"W20","g":"WT","t":-30,"v":0},{"s":"W20","g":"WT","t":-20,"v":1},{"s":"W20","g":"WT","t":-10,"v":3},{"s":"W20","g":"WT","t":0,"v":6},{"s":"W20","g":"WT","t":10,"v":9},{"s":"W20","g":"WT","t":20,"v":13},{"s":"W20","g":"WT","t":30,"v":20},{"s":"W20","g":"WT","t":40,"v":36},{"s":"W20","g":"WT","t":50,"v":51},{"s":"W20","g":"WT","t":60,"v":46},{"s":"W20","g":"WT","t":70,"v":41},{"s":"W20","g":"WT","t":80,"v":38},{"s":"W20","g":"WT","t":90,"v":34},{"s":"W20","g":"WT","t":100,"v":27},{"s":"W20","g":"WT","t":110,"v":21},{"s":"W20","g":"WT","t":120,"v":14},{"s":"W20","g":"WT","t":130,"v":10},{"s":"W20","g":"WT","t":140,"v":7},{"s":"W20","g":"WT","t":150,"v":4}
]},
"mark":{"type":"line","interpolate":"monotone","strokeWidth":2.5},
"encoding":{
"x":{"field":"t","type":"quantitative","scale":{"domain":[-40,160],"nice":false,"zero":false},
"axis":{"values":[-40,-20,0,20,40,60,80,100,120,140,160],"labelExpr":"datum.value < 0 ? '-' + abs(datum.value) : datum.label","labelAngle":-45,"labelAlign":"right","labelBaseline":"middle","labelPadding":30,"labelOffset":{"condition":{"test":"datum.value == 160","value":-7},"value":0},"labelOverlap":false,"labelFlush":false,"title":"Time (min)","titleX":229,"titleY":130,"titleBaseline":"alphabetic","titleAnchor":"middle"}},
"y":{"field":"v","type":"quantitative","scale":{"domain":[0,100],"nice":false},
"axis":{"values":[0,20,40,60,80,100],"labelPadding":8,"title":"Total Pcp1 Intensity (A.U)","titleFontSize":32,"titleX":-98,"titleY":209,"titleBaseline":"middle","titleAngle":-90,"titleAlign":"center"}},
"color":{"field":"g","type":"nominal","scale":{"domain":["WT","bqt1Δ"],"range":["#5599FF","#FF4499"]},
"legend":{"title":null,"orient":"none","legendX":356,"legendY":0,"padding":9,"fillColor":"white","strokeColor":"black","symbolType":"stroke","symbolSize":484,"symbolStrokeWidth":3,"labelFontSize":31,"labelFont":"Liberation Sans","labelColor":"black","labelOffset":15,"rowPadding":2,
"encode":{"legend":{"update":{"strokeWidth":{"value":2}}},"labels":{"update":{"fontStyle":{"signal":"datum.label === 'WT' ? 'normal' : 'italic'"}}}}}},
"detail":{"field":"s","type":"nominal"}
}
}
